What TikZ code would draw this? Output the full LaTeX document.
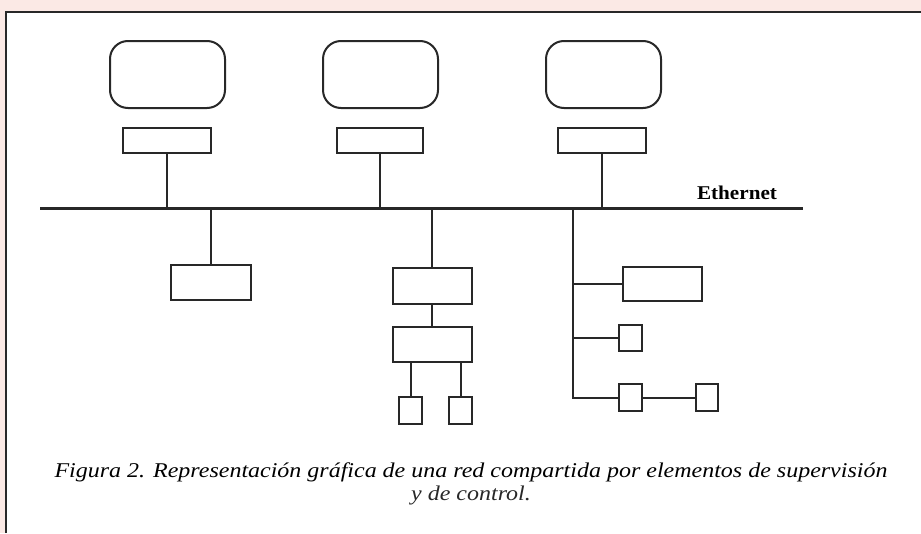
\documentclass[tikz,border=0pt]{standalone}
\usepackage{fontspec}
\setmainfont{Liberation Serif}
\definecolor{pinkbg}{RGB}{251,233,229}
\definecolor{ink}{RGB}{40,40,40}
\newsavebox\capbox
\newsavebox\ethbox
\newlength\capw
\newlength\ethw
\sbox\capbox{\fontsize{21}{24}\selectfont\itshape Figura 2. Representación gráfica de una red compartida por elementos de supervisión}
\sbox\ethbox{\fontsize{19.5}{24}\selectfont\bfseries Ethernet}
\setlength\capw{\wd\capbox}
\setlength\ethw{\wd\ethbox}
\begin{document}
\begin{tikzpicture}[x=1pt,y=-1pt,
  every node/.style={inner sep=0pt,outer sep=0pt},
  box/.style={draw=ink,line width=2pt,rectangle},
  monitor/.style={draw=ink,line width=2pt,rectangle,rounded corners=18pt,minimum width=115pt,minimum height=67pt},
  wire/.style={draw=ink,line width=2pt},
  bus/.style={draw=ink,line width=2.6pt}]
\useasboundingbox (0,0) rectangle (921,533);
\fill[pinkbg] (0,0) rectangle (921,533);
\fill[white] (6,12) rectangle (921,533);
\draw[ink,line width=2pt] (6,533) -- (6,12) -- (921,12);
% bus
\coordinate (busL) at (40,208.5);
\coordinate (busR) at (803,208.5);
\draw[bus] (busL) -- (busR);
\pgfmathsetmacro\ethsx{80/\ethw}
\node[anchor=base east,text=ink] (eth) at (777,199) {\scalebox{\ethsx}[1]{\usebox\ethbox}};
% monitors and interfaces
\node[monitor] (m1) at (167.5,74.5) {};
\node[monitor] (m2) at (380.5,74.5) {};
\node[monitor] (m3) at (603.5,74.5) {};
\node[box,minimum width=88pt,minimum height=25pt] (s1) at (167,140.5) {};
\node[box,minimum width=86pt,minimum height=25pt] (s2) at (380,140.5) {};
\node[box,minimum width=88pt,minimum height=25pt] (s3) at (602,140.5) {};
\draw[wire] (s1.south) -- (s1.south |- busL);
\draw[wire] (s2.south) -- (s2.south |- busL);
\draw[wire] (s3.south) -- (s3.south |- busL);
% left branch
\node[box,minimum width=80pt,minimum height=35pt] (b1) at (211,282.5) {};
\draw[wire] (b1.north |- busL) -- (b1.north);
% middle branch
\node[box,minimum width=79pt,minimum height=36pt] (ma) at (432,286) {};
\node[box,minimum width=79pt,minimum height=35pt] (mb) at (432,344.5) {};
\node[box,minimum width=23pt,minimum height=27pt] (mc) at (410.5,410.5) {};
\node[box,minimum width=23pt,minimum height=27pt] (md) at (460.5,410.5) {};
\draw[wire] (ma.north |- busL) -- (ma.north);
\draw[wire] (ma.south) -- (mb.north);
\draw[wire] (mb.south -| mc.north) -- (mc.north);
\draw[wire] (mb.south -| md.north) -- (md.north);
% right branch
\coordinate (rtop) at (573,208.5);
\coordinate (rbot) at (573,397.5);
\node[box,minimum width=79pt,minimum height=34pt] (r1) at (662.5,284) {};
\node[box,minimum width=23pt,minimum height=26pt] (r2) at (630.5,338) {};
\node[box,minimum width=23pt,minimum height=27pt] (r3) at (630.5,397.5) {};
\node[box,minimum width=22pt,minimum height=27pt] (r4) at (707,397.5) {};
\draw[wire] (rtop) -- (rbot) -- (r3.west);
\draw[wire] (r1.west) -- (r1.west -| rtop);
\draw[wire] (r2.west) -- (r2.west -| rtop);
\draw[wire] (r3.east) -- (r4.west);
% caption
\pgfmathsetmacro\capsx{833/\capw}
\node[anchor=base,text=ink] (cap1) at (471,477) {\scalebox{\capsx}[1]{\usebox\capbox}};
\node[anchor=base,text=ink] (cap2) at (471,500) {\scalebox{\capsx}[1]{\fontsize{21}{24}\selectfont\itshape y de control.}};
\end{tikzpicture}
\end{document}
